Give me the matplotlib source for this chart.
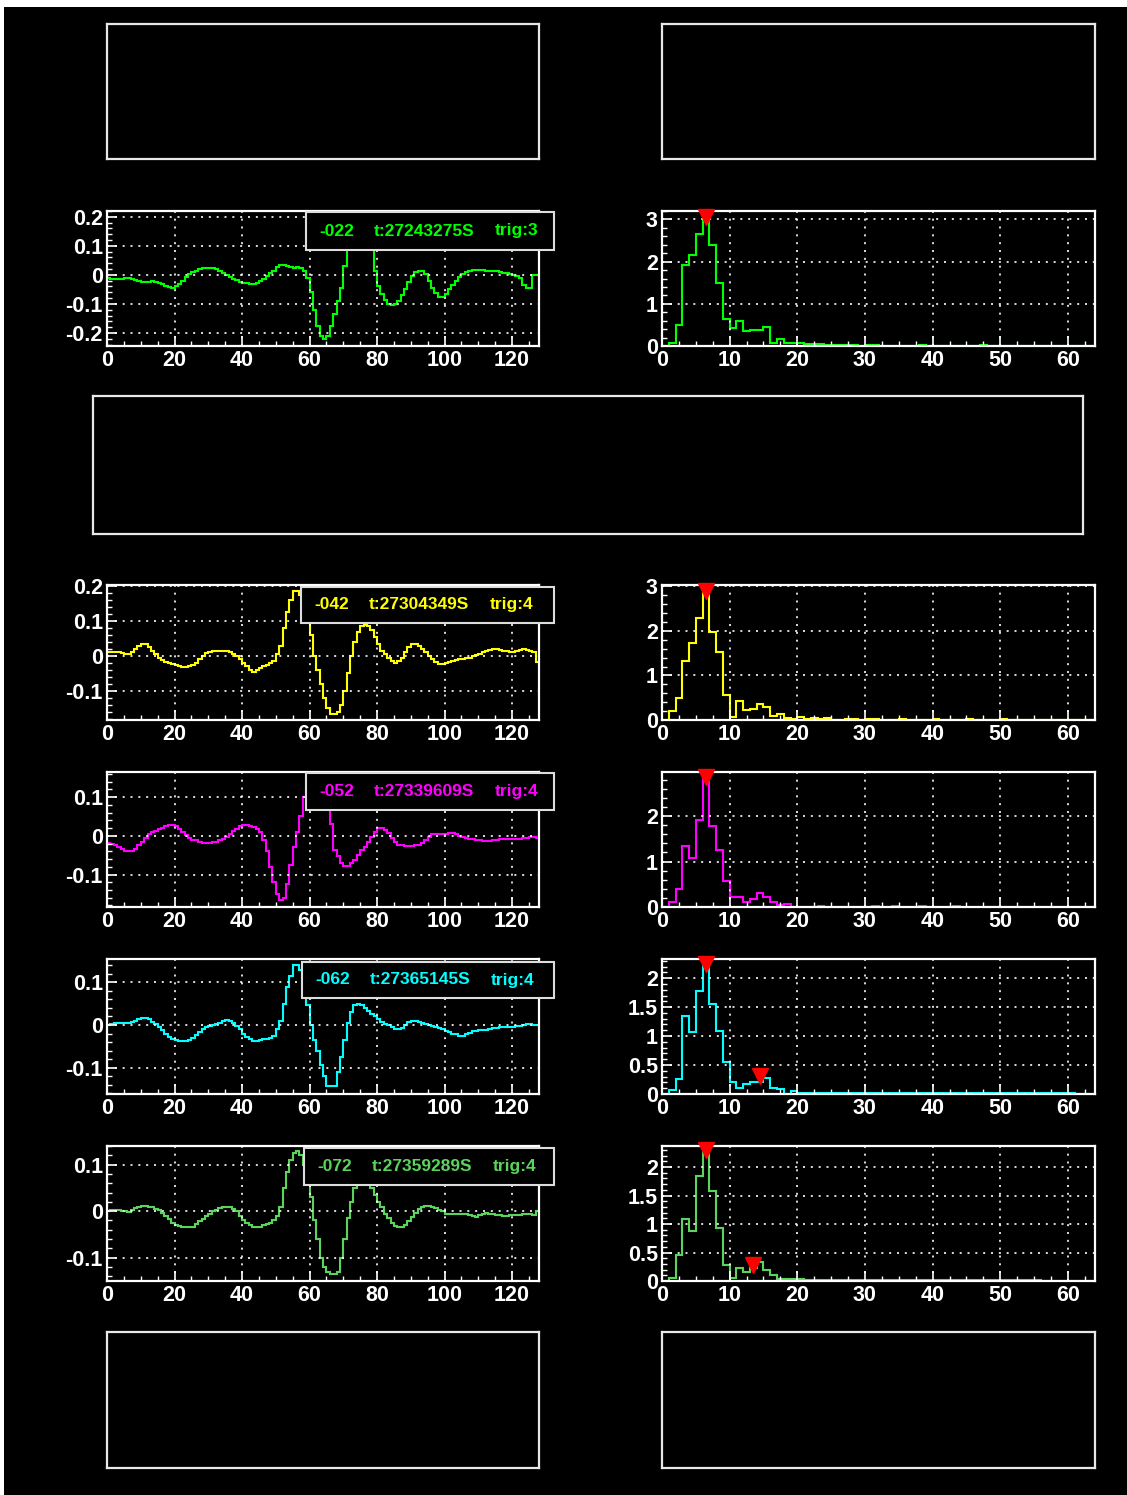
import numpy as np
import matplotlib
matplotlib.use("Agg")
import matplotlib.pyplot as plt
from matplotlib.patches import Rectangle
from matplotlib.ticker import MultipleLocator, AutoMinorLocator, FuncFormatter

plt.rcParams['font.family'] = ['Liberation Sans', 'DejaVu Sans']
plt.rcParams['font.weight'] = 'bold'

W, H = 1127, 1495

# ── channel labels ────────────────────────────────────────────────────────
channels = ['-022', '-042', '-052', '-062', '-072']
stamps = ['t:27243275S', 't:27304349S', 't:27339609S', 't:27365145S', 't:27359289S']
trigs = ['trig:3', 'trig:4', 'trig:4', 'trig:4', 'trig:4']
colors = ['#00ff00', '#ffff00', '#ff00ff', '#00ffff', '#5ad45a']

# ── waveforms (128 samples each) ──────────────────────────────────────────
wave_022 = [
    -0.012, -0.014, -0.015, -0.015, -0.014, -0.012, -0.011, -0.013, -0.017, -0.022,
    -0.026, -0.026, -0.023, -0.021, -0.023, -0.027, -0.032, -0.037, -0.042, -0.045,
    -0.040, -0.030, -0.020, -0.008, 0.002, 0.010, 0.015, 0.019, 0.022, 0.024,
    0.025, 0.024, 0.020, 0.015, 0.008, 0.000, -0.007, -0.013, -0.018, -0.023,
    -0.027, -0.029, -0.030, -0.030, -0.028, -0.022, -0.015, -0.005, 0.005, 0.015,
    0.028, 0.035, 0.035, 0.030, 0.027, 0.025, 0.026, 0.024, 0.015, -0.010,
    -0.060, -0.120, -0.175, -0.210, -0.222, -0.210, -0.175, -0.135, -0.090, -0.045,
    0.030, 0.090, 0.150, 0.200, 0.230, 0.240, 0.230, 0.200, 0.150, 0.015,
    -0.037, -0.067, -0.088, -0.100, -0.103, -0.100, -0.090, -0.070, -0.048, -0.026,
    -0.005, 0.010, 0.013, 0.012, 0.002, -0.020, -0.045, -0.064, -0.075, -0.075,
    -0.066, -0.050, -0.035, -0.020, -0.008, 0.002, 0.010, 0.015, 0.018, 0.018,
    0.018, 0.017, 0.015, 0.013, 0.012, 0.012, 0.010, 0.008, 0.006, 0.003,
    0.000, -0.005, -0.010, -0.035, -0.045, -0.045, 0.000, 0.000]
wave_042 = [
    0.010, 0.012, 0.012, 0.010, 0.008, 0.005, 0.005, 0.010, 0.020, 0.030,
    0.035, 0.033, 0.025, 0.015, 0.005, -0.005, -0.012, -0.018, -0.020, -0.022,
    -0.025, -0.030, -0.032, -0.032, -0.030, -0.025, -0.020, -0.010, 0.000, 0.008,
    0.012, 0.015, 0.015, 0.015, 0.015, 0.013, 0.010, 0.005, 0.000, -0.010,
    -0.020, -0.030, -0.040, -0.045, -0.040, -0.035, -0.030, -0.025, -0.020, -0.015,
    0.005, 0.030, 0.080, 0.125, 0.160, 0.185, 0.185, 0.175, 0.150, 0.100,
    0.060, 0.000, -0.040, -0.080, -0.120, -0.150, -0.165, -0.165, -0.160, -0.140,
    -0.100, -0.050, 0.000, 0.040, 0.070, 0.085, 0.090, 0.085, 0.075, 0.055,
    0.035, 0.015, 0.005, -0.005, -0.015, -0.020, -0.015, -0.005, 0.010, 0.025,
    0.035, 0.035, 0.030, 0.020, 0.010, 0.000, -0.010, -0.018, -0.022, -0.022,
    -0.020, -0.018, -0.015, -0.012, -0.010, -0.008, -0.006, -0.005, 0.000, 0.002,
    0.005, 0.010, 0.015, 0.018, 0.020, 0.020, 0.018, 0.015, 0.015, 0.012,
    0.012, 0.015, 0.018, 0.020, 0.018, 0.015, 0.010, -0.018]
wave_052 = [
    -0.018, -0.020, -0.025, -0.030, -0.035, -0.040, -0.040, -0.038, -0.035, -0.025,
    -0.015, -0.005, 0.005, 0.010, 0.013, 0.017, 0.020, 0.025, 0.028, 0.028,
    0.025, 0.018, 0.010, 0.002, -0.005, -0.010, -0.012, -0.015, -0.018, -0.018,
    -0.018, -0.017, -0.015, -0.012, -0.008, -0.003, 0.005, 0.012, 0.018, 0.025,
    0.028, 0.028, 0.025, 0.022, 0.018, 0.010, -0.010, -0.040, -0.080, -0.120,
    -0.150, -0.165, -0.160, -0.125, -0.075, -0.030, 0.010, 0.050, 0.100, 0.120,
    0.140, 0.150, 0.150, 0.140, 0.120, 0.070, 0.030, -0.036, -0.053, -0.070,
    -0.078, -0.078, -0.070, -0.062, -0.050, -0.036, -0.028, -0.015, -0.002, 0.011,
    0.020, 0.020, 0.016, 0.007, -0.006, -0.017, -0.023, -0.025, -0.026, -0.026,
    -0.026, -0.025, -0.023, -0.019, -0.010, -0.002, 0.005, 0.006, 0.006, 0.005,
    0.006, 0.008, 0.008, 0.006, 0.000, -0.003, -0.005, -0.007, -0.008, -0.010,
    -0.012, -0.014, -0.014, -0.014, -0.012, -0.010, -0.008, -0.008, -0.008, -0.008,
    -0.008, -0.007, -0.007, -0.006, -0.005, -0.004, -0.003, -0.006]
wave_062 = [
    0.000, 0.003, 0.005, 0.005, 0.005, 0.005, 0.005, 0.008, 0.010, 0.013,
    0.016, 0.016, 0.013, 0.008, 0.002, -0.005, -0.012, -0.020, -0.027, -0.032,
    -0.035, -0.037, -0.037, -0.037, -0.035, -0.030, -0.024, -0.017, -0.010, -0.005,
    -0.002, 0.000, 0.002, 0.005, 0.010, 0.012, 0.010, 0.005, -0.002, -0.010,
    -0.020, -0.027, -0.033, -0.037, -0.038, -0.035, -0.033, -0.032, -0.030, -0.025,
    -0.010, 0.010, 0.050, 0.090, 0.115, 0.140, 0.140, 0.130, 0.090, 0.048,
    0.000, -0.035, -0.060, -0.095, -0.120, -0.143, -0.143, -0.143, -0.110, -0.075,
    -0.035, 0.005, 0.030, 0.047, 0.050, 0.047, 0.040, 0.033, 0.025, 0.020,
    0.015, 0.008, 0.003, 0.000, -0.005, -0.010, -0.010, -0.008, 0.000, 0.006,
    0.010, 0.010, 0.008, 0.005, 0.002, 0.000, -0.002, -0.005, -0.008, -0.010,
    -0.015, -0.017, -0.020, -0.022, -0.025, -0.025, -0.022, -0.018, -0.015, -0.013,
    -0.012, -0.011, -0.011, -0.010, -0.008, -0.006, -0.005, -0.005, -0.005, -0.004,
    -0.004, -0.003, -0.002, 0.000, 0.002, 0.002, 0.000, 0.000]
wave_072 = [
    0.000, 0.003, 0.003, 0.002, 0.000, 0.000, -0.002, 0.002, 0.007, 0.010,
    0.012, 0.012, 0.010, 0.008, 0.005, 0.002, -0.003, -0.010, -0.017, -0.025,
    -0.030, -0.032, -0.033, -0.034, -0.035, -0.033, -0.028, -0.022, -0.016, -0.010,
    -0.005, 0.000, 0.003, 0.006, 0.008, 0.008, 0.008, 0.005, 0.000, -0.010,
    -0.018, -0.025, -0.030, -0.033, -0.033, -0.033, -0.030, -0.028, -0.025, -0.020,
    -0.010, 0.010, 0.050, 0.085, 0.110, 0.125, 0.130, 0.120, 0.100, 0.070,
    0.030, -0.020, -0.060, -0.100, -0.120, -0.130, -0.135, -0.135, -0.130, -0.100,
    -0.060, -0.015, 0.020, 0.050, 0.065, 0.070, 0.070, 0.065, 0.050, 0.035,
    0.020, 0.008, -0.005, -0.015, -0.025, -0.032, -0.035, -0.035, -0.030, -0.022,
    -0.012, -0.003, 0.005, 0.010, 0.012, 0.012, 0.010, 0.007, 0.003, 0.000,
    -0.005, -0.006, -0.006, -0.006, -0.005, -0.006, -0.007, -0.008, -0.010, -0.012,
    -0.008, -0.005, -0.003, -0.005, -0.007, -0.008, -0.008, -0.010, -0.010, -0.008,
    -0.008, -0.008, -0.008, -0.007, -0.007, -0.007, -0.009, 0.000]

# ── spectra (64 bins each) ────────────────────────────────────────────────
spec_022 = [
    0.00, 0.07, 0.50, 1.93, 2.15, 2.65, 3.05, 2.40, 1.50, 0.65,
    0.42, 0.60, 0.35, 0.38, 0.38, 0.45, 0.07, 0.17, 0.07, 0.08,
    0.07, 0.04, 0.04, 0.04, 0.02, 0.02, 0.02, 0.02, 0.02, 0.01,
    0.02, 0.02, 0.01, 0.01, 0.01, 0.01, 0.01, 0.01, 0.02, 0.01,
    0.01, 0.01, 0.01, 0.01, 0.01, 0.01, 0.01, 0.02, 0.01, 0.01,
    0.01, 0.01, 0.01, 0.01, 0.01, 0.01, 0.01, 0.01, 0.01, 0.01,
    0.01, 0.01, 0.01, 0.00]
spec_042 = [
    0.00, 0.20, 0.50, 1.33, 1.73, 2.28, 2.90, 1.97, 1.53, 0.57,
    0.07, 0.42, 0.22, 0.25, 0.37, 0.30, 0.08, 0.13, 0.04, 0.03,
    0.07, 0.02, 0.05, 0.02, 0.04, 0.01, 0.01, 0.02, 0.02, 0.01,
    0.02, 0.02, 0.01, 0.01, 0.01, 0.02, 0.01, 0.01, 0.01, 0.01,
    0.02, 0.01, 0.01, 0.01, 0.01, 0.02, 0.01, 0.01, 0.01, 0.01,
    0.02, 0.01, 0.01, 0.01, 0.01, 0.01, 0.00, 0.00, 0.00, 0.00,
    0.00, 0.00, 0.00, 0.00]
spec_052 = [
    0.00, 0.12, 0.40, 1.35, 1.07, 1.92, 2.85, 1.78, 1.26, 0.58,
    0.22, 0.22, 0.12, 0.17, 0.30, 0.22, 0.10, 0.05, 0.06, 0.01,
    0.01, 0.01, 0.01, 0.02, 0.01, 0.01, 0.01, 0.01, 0.01, 0.01,
    0.01, 0.02, 0.01, 0.01, 0.02, 0.01, 0.01, 0.01, 0.02, 0.01,
    0.01, 0.01, 0.01, 0.02, 0.01, 0.01, 0.01, 0.01, 0.01, 0.01,
    0.01, 0.01, 0.01, 0.01, 0.01, 0.01, 0.01, 0.01, 0.01, 0.01,
    0.01, 0.01, 0.01, 0.01]
spec_062 = [
    0.00, 0.07, 0.26, 1.35, 1.07, 1.78, 2.25, 1.55, 1.08, 0.56,
    0.20, 0.10, 0.18, 0.20, 0.21, 0.28, 0.10, 0.08, 0.00, 0.05,
    0.01, 0.01, 0.02, 0.01, 0.01, 0.01, 0.01, 0.01, 0.01, 0.01,
    0.01, 0.02, 0.01, 0.01, 0.01, 0.01, 0.01, 0.01, 0.01, 0.01,
    0.01, 0.01, 0.01, 0.01, 0.01, 0.01, 0.02, 0.01, 0.01, 0.01,
    0.01, 0.01, 0.01, 0.01, 0.01, 0.01, 0.01, 0.01, 0.01, 0.01,
    0.01, 0.00, 0.00, 0.00]
spec_072 = [
    0.00, 0.05, 0.45, 1.08, 0.87, 1.85, 2.30, 1.58, 0.93, 0.28,
    0.05, 0.22, 0.16, 0.22, 0.33, 0.20, 0.10, 0.03, 0.03, 0.04,
    0.03, 0.02, 0.01, 0.02, 0.01, 0.01, 0.01, 0.02, 0.01, 0.01,
    0.01, 0.01, 0.01, 0.01, 0.01, 0.01, 0.01, 0.01, 0.02, 0.01,
    0.01, 0.02, 0.01, 0.01, 0.01, 0.02, 0.01, 0.01, 0.01, 0.01,
    0.01, 0.01, 0.01, 0.01, 0.02, 0.01, 0.00, 0.00, 0.00, 0.00,
    0.00, 0.00, 0.00, 0.00]

# found peaks (bin centre, height) per spectrum
peaks_x = [[6.5], [6.5], [6.5], [6.5, 14.5], [6.5, 13.5]]
peaks_y = [[3.05], [2.90], [2.85], [2.25, 0.31], [2.30, 0.28]]

waves = [wave_022, wave_042, wave_052, wave_062, wave_072]
specs = [spec_022, spec_042, spec_052, spec_062, spec_072]

# axis ranges
wave_ylim = [(-0.245, 0.22), (-0.183, 0.203), (-0.184, 0.165), (-0.162, 0.155), (-0.15, 0.14)]
spec_ylim = [(0, 3.2), (0, 3.03), (0, 2.97), (0, 2.33), (0, 2.37)]
spec_ystep = [1, 1, 1, 0.5, 0.5]

# ── layout in pixels ──────────────────────────────────────────────────────
row_tops = [211, 585, 772, 959, 1146]
row_h = 135
wave_x = (107, 539)
spec_x = (662, 1095)
legend_x0 = [306, 301, 306, 302, 304]
legend_y = [(212, 250), (587, 623), (773, 810), (962, 998), (1148, 1185)]


def rect(x0, y0, x1, y1):
    return [x0 / W, 1 - y1 / H, (x1 - x0) / W, (y1 - y0) / H]


fig = plt.figure(figsize=(W / 100, H / 100), dpi=100, facecolor='white')
fig.add_artist(Rectangle((4 / W, 0), 1, (H - 7) / H, transform=fig.transFigure,
                         facecolor='black', edgecolor='none', zorder=-10))


def empty_box(x0, y0, x1, y1):
    ax = fig.add_axes(rect(x0, y0, x1, y1), facecolor='black')
    ax.set_xticks([])
    ax.set_yticks([])
    for s in ax.spines.values():
        s.set_color('#e8e8e8')
        s.set_linewidth(1.6)
    return ax


fmt = FuncFormatter(lambda v, p: f'{round(v, 6):g}')


def style(ax, xstep, ystep):
    ax.set_facecolor('black')
    for s in ax.spines.values():
        s.set_color('white')
        s.set_linewidth(1.6)
    ax.xaxis.set_major_locator(MultipleLocator(xstep))
    ax.yaxis.set_major_locator(MultipleLocator(ystep))
    ax.xaxis.set_minor_locator(AutoMinorLocator(4))
    ax.yaxis.set_minor_locator(AutoMinorLocator(5))
    ax.xaxis.set_major_formatter(fmt)
    ax.yaxis.set_major_formatter(fmt)
    ax.tick_params(which='both', direction='in', colors='white', labelsize=15.5,
                   top=False, right=False)
    ax.tick_params(which='major', length=7, width=1.2, pad=3)
    ax.tick_params(which='minor', length=3.5, width=1)
    ax.grid(True, which='major', color='white', linestyle=(0, (1.2, 3.5)), linewidth=1.2)
    ax.set_axisbelow(False)


empty_box(107, 24, 539, 159)
empty_box(662, 24, 1095, 159)
empty_box(93, 396, 1083, 534)
empty_box(107, 1332, 539, 1468)
empty_box(662, 1332, 1095, 1468)

for i in range(5):
    top = row_tops[i]
    axw = fig.add_axes(rect(wave_x[0], top, wave_x[1], top + row_h))
    axw.stairs(waves[i], np.arange(len(waves[i]) + 1), baseline=None,
               color=colors[i], linewidth=1.5)
    axw.set_xlim(0, 128)
    axw.set_ylim(*wave_ylim[i])
    style(axw, 20, 0.1)

    axs = fig.add_axes(rect(spec_x[0], top, spec_x[1], top + row_h))
    axs.stairs(specs[i], np.arange(len(specs[i]) + 1), baseline=None,
               color=colors[i], linewidth=1.5)
    axs.plot(peaks_x[i], peaks_y[i], linestyle='none', marker='v', color='red',
             markersize=11, clip_on=False, zorder=5)
    axs.set_xlim(0, 64)
    axs.set_ylim(*spec_ylim[i])
    style(axs, 10, spec_ystep[i])

    # channel legend box on top of the waveform pad
    lx0 = legend_x0[i]
    ly0, ly1 = legend_y[i]
    fig.add_artist(Rectangle((lx0 / W, 1 - ly1 / H), (554 - lx0) / W, (ly1 - ly0) / H,
                             transform=fig.transFigure, facecolor='black',
                             edgecolor='#dddddd', linewidth=1.5, zorder=6))
    yc = 1 - (ly0 + ly1) / 2 / H
    for txt, dx in zip([channels[i], stamps[i], trigs[i]], [13, 68, 189]):
        fig.text((lx0 + dx) / W, yc, txt, color=colors[i], fontsize=12.5,
                 fontweight='bold', ha='left', va='center', zorder=7)

fig.savefig('out.png', dpi=100, facecolor=fig.get_facecolor())
